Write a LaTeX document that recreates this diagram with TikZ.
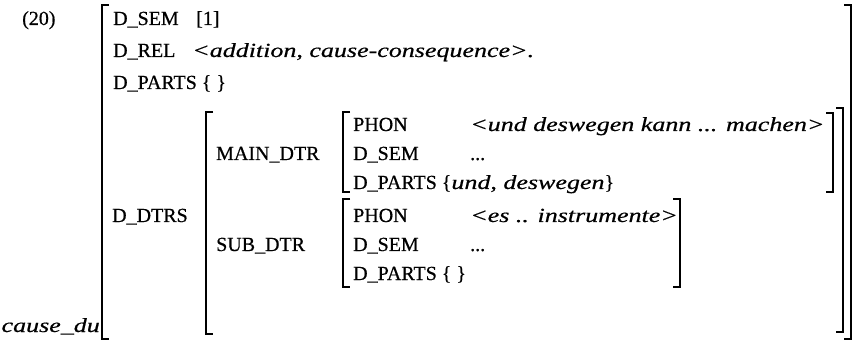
\documentclass[tikz,border=0pt]{standalone}
\usepackage{fontspec}
\setmainfont{Liberation Serif}[UprightFeatures={FakeBold=0.6},ItalicFeatures={FakeStretch=1.3,FakeBold=0.6}]
\begin{document}
\begin{tikzpicture}[x=1pt,y=-1pt,
  lab/.style={anchor=base west, inner sep=0pt, font=\fontsize{20}{22}\selectfont},
  rlab/.style={anchor=base east, inner sep=0pt, font=\fontsize{20}{22}\selectfont},
  br/.style={line width=1.1pt}]
\useasboundingbox (0,0) rectangle (855,342);
% outer brackets
\draw[br] (109,5) -- (102,5) -- (102,339) -- (109,339);
\draw[br] (844,5) -- (851,5) -- (851,339) -- (844,339);
% D_DTRS brackets
\draw[br] (213,112) -- (206,112) -- (206,334) -- (213,334);
\draw[br] (836,108) -- (843,108) -- (843,332) -- (836,332);
% MAIN_DTR brackets
\draw[br] (350,112) -- (343,112) -- (343,192) -- (350,192);
\draw[br] (826,113) -- (833,113) -- (833,192) -- (826,192);
% SUB_DTR brackets
\draw[br] (350,199) -- (343,199) -- (343,287) -- (350,287);
\draw[br] (673,199) -- (680,199) -- (680,287) -- (673,287);
% labels
\node[lab] (num) at (22,25) {(20)};
\node[lab] (dsem) at (113,25) {D\_SEM};
\node[lab] (dsemv) at (196,25) {[1]};
\node[lab] (drel) at (113,57) {D\_REL};
\node[lab] (drelv) at (192,57) {\textit{<addition, cause-consequence>.}};
\node[lab] (dparts) at (113,89) {D\_PARTS \{ \}};
\node[lab] (ddtrs) at (112,222) {D\_DTRS};
\node[lab] (main) at (216,160) {MAIN\_DTR};
\node[lab] (sub) at (216,251) {SUB\_DTR};
\node[lab] (mphon) at (353,131) {PHON};
\node[lab] (mphonv) at (470,131) {\textit{<und deswegen kann ... machen>}};
\node[lab] (msem) at (353,160) {D\_SEM};
\node[lab] (msemv) at (470,160) {...};
\node[lab] (mparts) at (353,189) {D\_PARTS \{\textit{und, deswegen}\}};
\node[lab] (sphon) at (353,222) {PHON};
\node[lab] (sphonv) at (470,222) {\textit{<es .. instrumente>}};
\node[lab] (ssem) at (353,251) {D\_SEM};
\node[lab] (ssemv) at (470,251) {...};
\node[lab] (sparts) at (353,280) {D\_PARTS \{ \}};
\node[rlab] (type) at (100,332) {\textit{cause\_du}};
\end{tikzpicture}
\end{document}
